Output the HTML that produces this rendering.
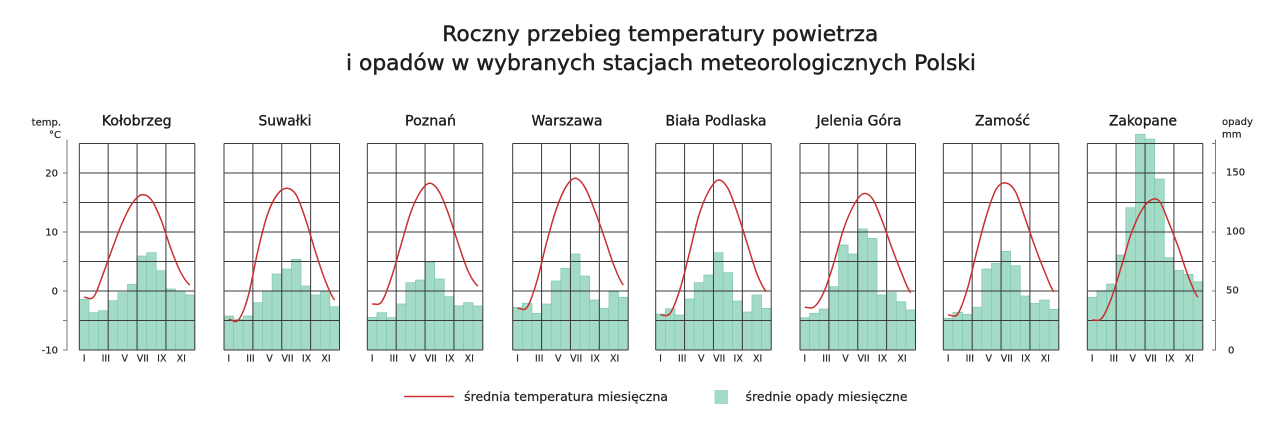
<!DOCTYPE html>
<html>
<head>
<meta charset="utf-8">
<style>
html,body{margin:0;padding:0;background:#fff;}
svg{display:block;}
text{font-family:"DejaVu Sans","Liberation Sans",sans-serif;}
</style>
</head>
<body>
<svg width="1280" height="436" viewBox="0 0 1280 436" xmlns="http://www.w3.org/2000/svg">
<defs>
<g id="grid" fill="none" stroke="#3a3a3a" stroke-width="1">
<path d="M0,143.5H115.5M0,173H115.5M0,202.5H115.5M0,232H115.5M0,261.5H115.5M0,291H115.5M0,320.5H115.5M0,350H115.5"/>
<path d="M0,143.5V350M28.875,143.5V350M57.75,143.5V350M86.625,143.5V350M115.5,143.5V350"/>
</g>
<g id="months" font-size="9.5" fill="#222" stroke="#222" stroke-width="0.15" text-anchor="middle">
<text x="4.8" y="361.5">I</text>
<text x="26.5" y="361.5">III</text>
<text x="45.5" y="361.5">V</text>
<text x="63.5" y="361.5">VII</text>
<text x="82.5" y="361.5">IX</text>
<text x="102" y="361.5">XI</text>
</g>
</defs>

<!-- Title -->
<g fill="#1e1e1e" stroke="#1e1e1e" stroke-width="0.45">
<text x="442.3" y="41" font-size="21.5" textLength="436" lengthAdjust="spacingAndGlyphs">Roczny przebieg temperatury powietrza</text>
<text x="346" y="70" font-size="21.5" textLength="630" lengthAdjust="spacingAndGlyphs">i opadów w wybranych stacjach meteorologicznych Polski</text>
</g>

<!-- Station names -->
<g font-size="14.5" fill="#1a1a1a" stroke="#1a1a1a" stroke-width="0.35" text-anchor="middle">
<text x="136.7" y="125.5" textLength="70" lengthAdjust="spacingAndGlyphs">Kołobrzeg</text>
<text x="285" y="125.5" textLength="53" lengthAdjust="spacingAndGlyphs">Suwałki</text>
<text x="430.5" y="125.5" textLength="51" lengthAdjust="spacingAndGlyphs">Poznań</text>
<text x="567" y="125.5" textLength="71" lengthAdjust="spacingAndGlyphs">Warszawa</text>
<text x="716" y="125.5" textLength="101" lengthAdjust="spacingAndGlyphs">Biała Podlaska</text>
<text x="859" y="125.5" textLength="85" lengthAdjust="spacingAndGlyphs">Jelenia Góra</text>
<text x="1002.5" y="125.5" textLength="55" lengthAdjust="spacingAndGlyphs">Zamość</text>
<text x="1143" y="125.5" textLength="68" lengthAdjust="spacingAndGlyphs">Zakopane</text>
</g>

<!-- Left axis -->
<g stroke="#7a7a7a" stroke-width="1" fill="none">
<path d="M67,139.5V350.5"/>
<path d="M63,173H67M63,202.5H67M63,232H67M63,261.5H67M63,291H67M63,320.5H67M63,350H67"/>
</g>
<g font-size="10" fill="#222" stroke="#222" stroke-width="0.2" text-anchor="end">
<text x="61" y="125.5">temp.</text>
<text x="61" y="138">°C</text>
<text x="58" y="176.6">20</text>
<text x="58" y="235.6">10</text>
<text x="58" y="294.6">0</text>
<text x="58" y="353.6">-10</text>
</g>

<!-- Right axis -->
<g stroke="#7a7a7a" stroke-width="1" fill="none">
<path d="M1215.5,139.5V350.5"/>
<path d="M1212,143.5H1215.5M1212,173H1215.5M1212,202.5H1215.5M1212,232H1215.5M1212,261.5H1215.5M1212,291H1215.5M1212,320.5H1215.5M1212,350H1215.5"/>
</g>
<g font-size="10" fill="#222" stroke="#222" stroke-width="0.2">
<text x="1222" y="125">opady</text>
<text x="1222" y="137.5">mm</text>
<text x="1226" y="175.6">150</text>
<text x="1226" y="234.6">100</text>
<text x="1226" y="293.6">50</text>
<text x="1228" y="353.6">0</text>
</g>

<!-- Kołobrzeg -->
<g transform="translate(79.3,0)">
<g fill="#a3dbc7" stroke="#80c9b0" stroke-width="0.7">
<rect x="0" y="299.3" width="9.625" height="50.7"/>
<rect x="9.625" y="312.7" width="9.625" height="37.3"/>
<rect x="19.25" y="310.7" width="9.625" height="39.3"/>
<rect x="28.875" y="300.7" width="9.625" height="49.3"/>
<rect x="38.5" y="292.7" width="9.625" height="57.3"/>
<rect x="48.125" y="284.3" width="9.625" height="65.7"/>
<rect x="57.75" y="256" width="9.625" height="94"/>
<rect x="67.375" y="252.7" width="9.625" height="97.3"/>
<rect x="77" y="270.7" width="9.625" height="79.3"/>
<rect x="86.625" y="289" width="9.625" height="61"/>
<rect x="96.25" y="291" width="9.625" height="59"/>
<rect x="105.875" y="295" width="9.625" height="55"/>
</g>
<use href="#grid"/>
<path fill="none" stroke="#c9302f" stroke-width="1.5" d="M4.81,297.3 C8.02,297.2 11.23,300.7 14.44,296.7 S20.85,281.6 24.06,273.3 S30.48,255.25 33.69,246.7 S40.10,229.2 43.31,222 S49.73,207.85 52.94,203.3 S59.35,195.25 62.56,194.7 S68.98,195.8 72.19,200 S78.60,211.95 81.81,220 S88.23,239.7 91.44,248.3 S97.85,265.6 101.06,271.7 S107.48,282.8 110.69,285"/>
<use href="#months"/>
</g>

<!-- Suwałki -->
<g transform="translate(224,0)">
<g fill="#a3dbc7" stroke="#80c9b0" stroke-width="0.7">
<rect x="0" y="316" width="9.625" height="34"/>
<rect x="9.625" y="319.3" width="9.625" height="30.7"/>
<rect x="19.25" y="316" width="9.625" height="34"/>
<rect x="28.875" y="302.7" width="9.625" height="47.3"/>
<rect x="38.5" y="291" width="9.625" height="59"/>
<rect x="48.125" y="274" width="9.625" height="76"/>
<rect x="57.75" y="269" width="9.625" height="81"/>
<rect x="67.375" y="259.3" width="9.625" height="90.7"/>
<rect x="77" y="286" width="9.625" height="64"/>
<rect x="86.625" y="295" width="9.625" height="55"/>
<rect x="96.25" y="291" width="9.625" height="59"/>
<rect x="105.875" y="306.7" width="9.625" height="43.3"/>
</g>
<use href="#grid"/>
<path fill="none" stroke="#c9302f" stroke-width="1.5" d="M4.81,319.3 C8.02,319.4 11.23,323.77 14.44,320 S20.85,308.1 24.06,296.7 S30.48,265.3 33.69,251.7 S40.10,224.45 43.31,215 S49.73,199.45 52.94,195 S59.35,188.3 62.56,188.3 S68.98,189.7 72.19,195 S78.60,210.55 81.81,220 S88.23,241.7 91.44,251.7 S97.85,271.95 101.06,280 S107.48,296.67 110.69,300"/>
<use href="#months"/>
</g>

<!-- Poznań -->
<g transform="translate(367.3,0)">
<g fill="#a3dbc7" stroke="#80c9b0" stroke-width="0.7">
<rect x="0" y="317.3" width="9.625" height="32.7"/>
<rect x="9.625" y="312.7" width="9.625" height="37.3"/>
<rect x="19.25" y="317.7" width="9.625" height="32.3"/>
<rect x="28.875" y="304" width="9.625" height="46"/>
<rect x="38.5" y="282.7" width="9.625" height="67.3"/>
<rect x="48.125" y="280" width="9.625" height="70"/>
<rect x="57.75" y="262.3" width="9.625" height="87.7"/>
<rect x="67.375" y="279" width="9.625" height="71"/>
<rect x="77" y="296.7" width="9.625" height="53.3"/>
<rect x="86.625" y="305.7" width="9.625" height="44.3"/>
<rect x="96.25" y="302.7" width="9.625" height="47.3"/>
<rect x="105.875" y="306" width="9.625" height="44"/>
</g>
<use href="#grid"/>
<path fill="none" stroke="#c9302f" stroke-width="1.5" d="M4.81,304 C8.02,303.6 11.23,306.1 14.44,301.7 S20.85,287.15 24.06,277.7 S30.48,255.83 33.69,245 S40.10,221.53 43.31,212.7 S49.73,196.9 52.94,192 S59.35,183.25 62.56,183.3 S68.98,186.9 72.19,192.3 S78.60,206.9 81.81,215.7 S88.23,235.67 91.44,245 S97.85,264.87 101.06,271.7 S107.48,283.62 110.69,286"/>
<use href="#months"/>
</g>

<!-- Warszawa -->
<g transform="translate(512.7,0)">
<g fill="#a3dbc7" stroke="#80c9b0" stroke-width="0.7">
<rect x="0" y="307.3" width="9.625" height="42.7"/>
<rect x="9.625" y="303.3" width="9.625" height="46.7"/>
<rect x="19.25" y="313.3" width="9.625" height="36.7"/>
<rect x="28.875" y="304" width="9.625" height="46"/>
<rect x="38.5" y="281" width="9.625" height="69"/>
<rect x="48.125" y="268.3" width="9.625" height="81.7"/>
<rect x="57.75" y="254" width="9.625" height="96"/>
<rect x="67.375" y="276" width="9.625" height="74"/>
<rect x="77" y="300" width="9.625" height="50"/>
<rect x="86.625" y="308.3" width="9.625" height="41.7"/>
<rect x="96.25" y="291.7" width="9.625" height="58.3"/>
<rect x="105.875" y="297.3" width="9.625" height="52.7"/>
</g>
<use href="#grid"/>
<path fill="none" stroke="#c9302f" stroke-width="1.5" d="M4.81,308.3 C8.02,308.1 11.23,311.73 14.44,307.3 S20.85,292.37 24.06,281.7 S30.48,255.25 33.69,243.3 S40.10,219.33 43.31,210 S49.73,192.58 52.94,187.3 S59.35,178.3 62.56,178.3 S68.98,182.02 72.19,187.3 S78.60,201.77 81.81,210 S88.23,227.53 91.44,236.7 S97.85,256.95 101.06,265 S107.48,281.67 110.69,285"/>
<use href="#months"/>
</g>

<!-- Biała Podlaska -->
<g transform="translate(655.7,0)">
<g fill="#a3dbc7" stroke="#80c9b0" stroke-width="0.7">
<rect x="0" y="314" width="9.625" height="36"/>
<rect x="9.625" y="308.7" width="9.625" height="41.3"/>
<rect x="19.25" y="315" width="9.625" height="35"/>
<rect x="28.875" y="299" width="9.625" height="51"/>
<rect x="38.5" y="282.7" width="9.625" height="67.3"/>
<rect x="48.125" y="275" width="9.625" height="75"/>
<rect x="57.75" y="252.7" width="9.625" height="97.3"/>
<rect x="67.375" y="272.7" width="9.625" height="77.3"/>
<rect x="77" y="301" width="9.625" height="49"/>
<rect x="86.625" y="312" width="9.625" height="38"/>
<rect x="96.25" y="295" width="9.625" height="55"/>
<rect x="105.875" y="308.3" width="9.625" height="41.7"/>
</g>
<use href="#grid"/>
<path fill="none" stroke="#c9302f" stroke-width="1.5" d="M4.81,315 C8.02,314.7 11.23,317.47 14.44,313.3 S20.85,300 24.06,290 S30.48,265.8 33.69,253.3 S40.10,225.33 43.31,215 S49.73,197.13 52.94,191.3 S59.35,180.5 62.56,180 S68.98,182.75 72.19,188.3 S78.60,204.13 81.81,213.3 S88.23,233.3 91.44,243.3 S97.85,265.23 101.06,273.3 S107.48,288.63 110.69,291.7"/>
<use href="#months"/>
</g>

<!-- Jelenia Góra -->
<g transform="translate(800,0)">
<g fill="#a3dbc7" stroke="#80c9b0" stroke-width="0.7">
<rect x="0" y="317.7" width="9.625" height="32.3"/>
<rect x="9.625" y="313.3" width="9.625" height="36.7"/>
<rect x="19.25" y="309" width="9.625" height="41"/>
<rect x="28.875" y="286.7" width="9.625" height="63.3"/>
<rect x="38.5" y="245" width="9.625" height="105"/>
<rect x="48.125" y="254" width="9.625" height="96"/>
<rect x="57.75" y="229" width="9.625" height="121"/>
<rect x="67.375" y="238.3" width="9.625" height="111.7"/>
<rect x="77" y="295" width="9.625" height="55"/>
<rect x="86.625" y="292.7" width="9.625" height="57.3"/>
<rect x="96.25" y="301.7" width="9.625" height="48.3"/>
<rect x="105.875" y="310" width="9.625" height="40"/>
</g>
<use href="#grid"/>
<path fill="none" stroke="#c9302f" stroke-width="1.5" d="M4.81,307.3 C8.02,307.2 11.23,309.3 14.44,306.7 S20.85,298.93 24.06,291.7 S30.48,273.58 33.69,263.3 S40.10,239.43 43.31,230 S49.73,212.7 52.94,206.7 S59.35,195.4 62.56,194 S68.98,193.97 72.19,198.3 S78.60,211.93 81.81,220 S88.23,238.08 91.44,246.7 S97.85,264.03 101.06,271.7 S107.48,289.2 110.69,292.7"/>
<use href="#months"/>
</g>

<!-- Zamość -->
<g transform="translate(943.3,0)">
<g fill="#a3dbc7" stroke="#80c9b0" stroke-width="0.7">
<rect x="0" y="318.3" width="9.625" height="31.7"/>
<rect x="9.625" y="312.3" width="9.625" height="37.7"/>
<rect x="19.25" y="314.3" width="9.625" height="35.7"/>
<rect x="28.875" y="307.3" width="9.625" height="42.7"/>
<rect x="38.5" y="269" width="9.625" height="81"/>
<rect x="48.125" y="263.3" width="9.625" height="86.7"/>
<rect x="57.75" y="251.3" width="9.625" height="98.7"/>
<rect x="67.375" y="265.7" width="9.625" height="84.3"/>
<rect x="77" y="296" width="9.625" height="54"/>
<rect x="86.625" y="303.3" width="9.625" height="46.7"/>
<rect x="96.25" y="300" width="9.625" height="50"/>
<rect x="105.875" y="309.3" width="9.625" height="40.7"/>
</g>
<use href="#grid"/>
<path fill="none" stroke="#c9302f" stroke-width="1.5" d="M4.81,315 C8.02,314.8 11.23,318.33 14.44,314 S20.85,299.55 24.06,289 S30.48,263.03 33.69,250.7 S40.10,225.28 43.31,215 S49.73,194.33 52.94,189 S59.35,182.55 62.56,183 S68.98,185.82 72.19,191.7 S78.60,209.25 81.81,218.3 S88.23,237.22 91.44,246 S97.85,263.38 101.06,271 S107.48,288.25 110.69,291.7"/>
<use href="#months"/>
</g>

<!-- Zakopane -->
<g transform="translate(1087.3,0)">
<g fill="#a3dbc7" stroke="#80c9b0" stroke-width="0.7">
<rect x="0" y="297.3" width="9.625" height="52.7"/>
<rect x="9.625" y="290.7" width="9.625" height="59.3"/>
<rect x="19.25" y="284" width="9.625" height="66"/>
<rect x="28.875" y="255" width="9.625" height="95"/>
<rect x="38.5" y="207.7" width="9.625" height="142.3"/>
<rect x="48.125" y="134.3" width="9.625" height="215.7"/>
<rect x="57.75" y="139" width="9.625" height="211"/>
<rect x="67.375" y="179" width="9.625" height="171"/>
<rect x="77" y="257.7" width="9.625" height="92.3"/>
<rect x="86.625" y="270.3" width="9.625" height="79.7"/>
<rect x="96.25" y="274.3" width="9.625" height="75.7"/>
<rect x="105.875" y="281.7" width="9.625" height="68.3"/>
</g>
<use href="#grid"/>
<path fill="none" stroke="#c9302f" stroke-width="1.5" d="M4.81,320 C8.02,319.7 11.23,321.92 14.44,318.3 S20.85,306.73 24.06,298.3 S30.48,278.2 33.69,267.7 S40.10,244.47 43.31,235.3 S49.73,218.47 52.94,212.7 S59.35,202.6 62.56,200.7 S68.98,197.53 72.19,201.3 S78.60,215.47 81.81,223.3 S88.23,239.4 91.44,248.3 S97.85,268.53 101.06,276.7 S107.48,293.87 110.69,297.3"/>
<use href="#months"/>
</g>

<!-- Legend -->
<path d="M404,396.5H454" stroke="#c9302f" stroke-width="1.5" fill="none"/>
<text x="464" y="400.8" font-size="12.5" fill="#222" stroke="#222" stroke-width="0.2" textLength="204" lengthAdjust="spacingAndGlyphs">średnia temperatura miesięczna</text>
<rect x="714.5" y="390" width="13.5" height="14" fill="#a3dbc7"/>
<text x="745.5" y="400.8" font-size="12.5" fill="#222" stroke="#222" stroke-width="0.2" textLength="162" lengthAdjust="spacingAndGlyphs">średnie opady miesięczne</text>
</svg>
</body>
</html>
